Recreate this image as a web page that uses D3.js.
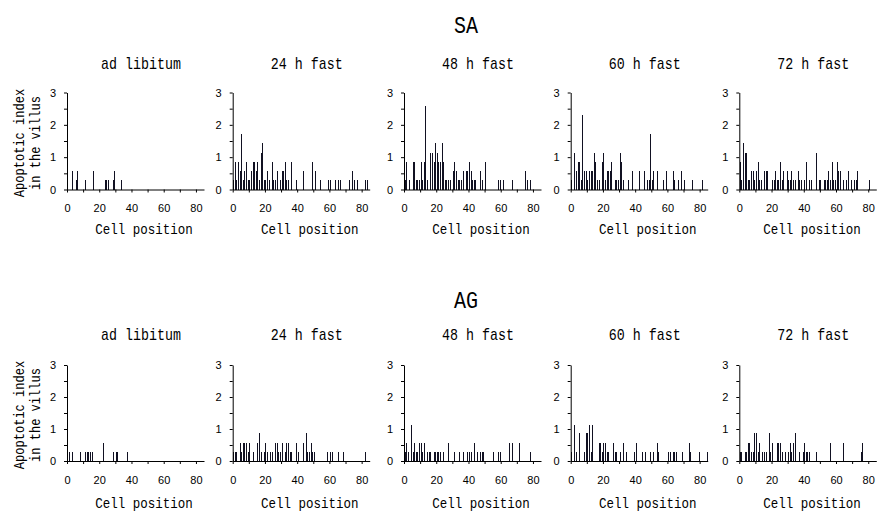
<!DOCTYPE html>
<html><head><meta charset="utf-8">
<script src="https://cdn.jsdelivr.net/npm/d3@7"></script>
<style>body{margin:0;background:#fff}</style></head>
<body>
<svg id="chart" width="878" height="512"></svg>
<script>
// ---------- data ----------
const groups = ["SA", "AG"];
const conditions = ["ad libitum", "24 h fast", "48 h fast", "60 h fast", "72 h fast"];
const xTickLabels = [0, 20, 40, 60, 80];
const yTickLabels = [0, 1, 2, 3];
const xLabel = "Cell position";
const yLabelLines = ["Apoptotic index", "in the villus"];

// SA
const saAdLibPos = [3, 5, 6, 11, 16, 23, 24, 25, 28, 29, 33];
const saAdLibVal = [0.57, 0.29, 0.57, 0.29, 0.57, 0.29, 0.29, 0.29, 0.29, 0.57, 0.29];

const sa24Pos = [0, 1, 2, 3, 4, 5, 6, 7, 8, 9, 10, 11, 12, 13, 14, 15, 16, 17, 18, 19, 20, 21, 22, 24, 25, 26, 27, 29, 30, 31, 32, 33, 34, 36, 39, 43, 49, 51, 54, 59, 60, 63, 65, 66, 72, 74, 75, 77, 82, 83];
const sa24Val = [0.29, 0.86, 0.29, 0.86, 0.57, 1.71, 0.29, 0.57, 0.86, 0.29, 0.29, 0.57, 0.86, 0.86, 0.57, 0.86, 0.29, 1.14, 1.43, 0.29, 0.29, 0.57, 0.29, 0.86, 0.29, 0.29, 0.57, 0.29, 0.57, 0.57, 0.86, 0.29, 0.29, 0.86, 0.29, 0.57, 0.86, 0.57, 0.29, 0.29, 0.29, 0.29, 0.29, 0.29, 0.29, 0.57, 0.29, 0.29, 0.29, 0.29];

const sa48Pos = [0, 1, 3, 5, 6, 7, 8, 9, 10, 11, 12, 13, 14, 16, 17, 18, 19, 20, 21, 22, 23, 24, 25, 26, 27, 28, 30, 31, 32, 33, 34, 35, 36, 38, 39, 40, 41, 42, 43, 44, 47, 48, 50, 58, 59, 61, 67, 75, 76, 78];
const sa48Val = [0.29, 0.86, 0.29, 0.86, 0.86, 0.29, 0.29, 0.29, 0.86, 0.29, 0.86, 2.57, 0.29, 1.14, 1.14, 0.86, 1.43, 1.14, 0.86, 0.86, 1.43, 0.86, 0.29, 0.29, 0.29, 0.29, 0.57, 0.86, 0.57, 0.29, 0.29, 0.29, 0.57, 0.57, 0.57, 0.86, 0.57, 0.29, 0.29, 0.29, 0.57, 0.29, 0.86, 0.29, 0.29, 0.29, 0.29, 0.57, 0.29, 0.29];

const sa60Pos = [0, 2, 3, 4, 5, 6, 7, 8, 9, 10, 11, 12, 13, 14, 15, 16, 17, 19, 20, 21, 22, 23, 24, 25, 27, 28, 29, 30, 31, 32, 35, 38, 42, 45, 47, 48, 49, 50, 51, 53, 57, 59, 63, 64, 66, 68, 70, 75, 81];
const sa60Val = [0.29, 1.14, 0.57, 0.86, 0.86, 0.29, 2.29, 0.57, 0.57, 0.29, 0.57, 0.57, 0.57, 1.14, 0.86, 0.29, 0.29, 0.86, 1.14, 0.29, 0.57, 0.57, 0.57, 0.86, 0.29, 0.29, 0.29, 1.14, 0.86, 0.29, 0.29, 0.57, 0.57, 0.57, 0.29, 0.29, 1.71, 0.29, 0.57, 0.57, 0.29, 0.57, 0.57, 0.29, 0.29, 0.57, 0.29, 0.29, 0.29];

const sa72Pos = [0, 1, 2, 3, 4, 5, 6, 7, 8, 9, 10, 11, 12, 13, 15, 16, 17, 20, 21, 22, 23, 24, 25, 26, 27, 29, 30, 31, 32, 33, 34, 36, 37, 38, 40, 41, 43, 44, 47, 49, 50, 52, 53, 54, 55, 56, 57, 58, 59, 60, 61, 62, 64, 66, 67, 69, 71, 72, 73, 80];
const sa72Val = [0.86, 0.29, 1.43, 1.14, 1.14, 0.29, 0.29, 0.57, 0.57, 0.29, 0.57, 0.86, 0.29, 0.29, 0.57, 0.57, 0.57, 0.29, 0.29, 0.57, 0.29, 0.29, 0.86, 0.29, 0.57, 0.57, 0.29, 0.29, 0.57, 0.29, 0.29, 0.57, 0.29, 0.29, 0.29, 0.86, 0.29, 0.29, 1.14, 0.29, 0.29, 0.29, 0.29, 0.29, 0.57, 0.29, 0.86, 0.29, 0.29, 0.86, 0.57, 0.57, 0.29, 0.29, 0.57, 0.29, 0.29, 0.29, 0.57, 0.29];

// AG
const agAdLibPos = [1, 3, 8, 11, 12, 13, 14, 15, 22, 28, 30, 31, 37];
const agAdLibVal = [0.29, 0.29, 0.29, 0.29, 0.29, 0.29, 0.29, 0.29, 0.57, 0.29, 0.29, 0.29, 0.29];

const ag24Pos = [0, 1, 2, 4, 5, 6, 7, 8, 9, 10, 12, 15, 16, 17, 19, 20, 21, 23, 24, 26, 27, 28, 29, 30, 32, 33, 34, 35, 36, 39, 40, 43, 45, 46, 47, 48, 49, 50, 58, 60, 61, 65, 68, 82];
const ag24Val = [0.29, 0.29, 0.29, 0.57, 0.29, 0.57, 0.57, 0.57, 0.29, 0.57, 0.29, 0.57, 0.86, 0.29, 0.29, 0.57, 0.29, 0.29, 0.29, 0.57, 0.57, 0.29, 0.29, 0.57, 0.29, 0.57, 0.57, 0.29, 0.29, 0.57, 0.29, 0.57, 0.86, 0.29, 0.29, 0.57, 0.29, 0.29, 0.29, 0.29, 0.29, 0.29, 0.29, 0.29];

const ag48Pos = [0, 1, 2, 4, 5, 6, 7, 8, 9, 10, 11, 12, 14, 15, 16, 18, 19, 20, 21, 22, 24, 27, 31, 34, 36, 39, 40, 41, 43, 45, 47, 48, 49, 55, 58, 59, 65, 67, 71, 78];
const ag48Val = [0.29, 0.57, 0.29, 1.14, 0.29, 0.57, 0.29, 0.29, 0.57, 0.57, 0.29, 0.57, 0.29, 0.29, 0.29, 0.29, 0.29, 0.29, 0.29, 0.29, 0.29, 0.57, 0.29, 0.29, 0.29, 0.29, 0.29, 0.29, 0.57, 0.29, 0.29, 0.29, 0.29, 0.29, 0.29, 0.29, 0.57, 0.57, 0.57, 0.29];

const ag60Pos = [0, 2, 3, 5, 8, 9, 10, 11, 12, 13, 17, 18, 19, 20, 21, 22, 23, 26, 27, 28, 30, 32, 34, 39, 40, 44, 46, 49, 51, 53, 54, 60, 61, 63, 64, 65, 69, 73, 74, 79, 84];
const ag60Val = [0.29, 1.14, 0.29, 0.86, 0.29, 0.86, 0.86, 1.14, 0.29, 1.14, 0.57, 0.57, 0.29, 0.57, 0.57, 0.29, 0.29, 0.57, 0.29, 0.29, 0.29, 0.57, 0.29, 0.29, 0.57, 0.29, 0.29, 0.29, 0.29, 0.57, 0.29, 0.29, 0.29, 0.29, 0.29, 0.29, 0.29, 0.57, 0.29, 0.29, 0.29];

const ag72Pos = [0, 1, 3, 4, 5, 6, 7, 8, 9, 10, 11, 12, 14, 15, 16, 18, 19, 20, 23, 24, 25, 26, 28, 30, 31, 32, 33, 34, 37, 39, 40, 41, 42, 43, 47, 56, 64, 75, 76];
const ag72Val = [0.29, 0.29, 0.29, 0.29, 0.57, 0.57, 0.29, 0.29, 0.86, 0.86, 0.29, 0.57, 0.29, 0.29, 0.29, 0.86, 0.29, 0.57, 0.57, 0.57, 0.57, 0.29, 0.29, 0.29, 0.57, 0.29, 0.57, 0.86, 0.29, 0.29, 0.57, 0.29, 0.29, 0.29, 0.29, 0.57, 0.57, 0.29, 0.57];

const seriesPos = [
  [saAdLibPos, sa24Pos, sa48Pos, sa60Pos, sa72Pos],
  [agAdLibPos, ag24Pos, ag48Pos, ag60Pos, ag72Pos]
];
const seriesVal = [
  [saAdLibVal, sa24Val, sa48Val, sa60Val, sa72Val],
  [agAdLibVal, ag24Val, ag48Val, ag60Val, ag72Val]
];

// ---------- layout ----------
const panelLeft = [67, 232.7, 404, 570.7, 739.3];
const panelWidth = 137;
const rowLayout = [
  {top: 92.5, bottom: 189.5, head: 25, title: 63, xlab: 229},
  {top: 365, bottom: 461, head: 300, title: 334, xlab: 503}
];
const svg = d3.select("#chart");
const GOTHIC = "'Liberation Mono', 'DejaVu Sans Mono', monospace";
const SANS = "'Liberation Sans', Arial, sans-serif";
const NARROW = 0.5 / 0.6; // half-width gothic look from a 0.6em mono font

function gothicText(g, x, y, txt, size, rotate) {
  const tr = rotate
    ? `translate(${x},${y}) rotate(-90) scale(${NARROW},1)`
    : `translate(${x},${y}) scale(${NARROW},1)`;
  return g.append("text")
    .attr("transform", tr)
    .attr("dy", "0.35em")
    .attr("text-anchor", "middle")
    .attr("font-family", GOTHIC)
    .attr("font-size", size)
    .attr("fill", "#000")
    .text(txt);
}

groups.forEach((grp, gi) => {
  const L = rowLayout[gi];
  gothicText(svg, 466, L.head, grp, 24);
  const mid = (L.top + L.bottom) / 2 + 2;
  gothicText(svg, 19, mid, yLabelLines[0], 14.5, true);
  gothicText(svg, 35, mid, yLabelLines[1], 14.5, true);

  conditions.forEach((cond, ci) => {
    const left = panelLeft[ci];
    const x = d3.scaleLinear().domain([0, 85]).range([left, left + panelWidth]);
    const y = d3.scaleLinear().domain([0, 3]).range([L.bottom, L.top]);
    const g = svg.append("g");

    gothicText(g, left + 74, L.title, cond, 16);
    gothicText(g, Math.min(left + 77, 812), L.xlab, xLabel, 15);

    const pos = seriesPos[gi][ci];
    const val = seriesVal[gi][ci];
    const data = pos.map((p, i) => ({p, v: val[i]}));
    g.append("g").attr("shape-rendering", "crispEdges")
      .selectAll("rect").data(data).join("rect")
      .attr("x", d => Math.round(x(d.p) + 0.5))
      .attr("y", d => Math.round(y(d.v)))
      .attr("width", 1)
      .attr("height", d => Math.round(y(0)) - Math.round(y(d.v)))
      .attr("fill", "#111122");

    const yAxis = d3.axisLeft(y)
      .tickValues(d3.range(0, 3.01, 0.5))
      .tickSize(3).tickSizeOuter(0).tickPadding(8)
      .tickFormat(d => yTickLabels.includes(d) ? d : "");
    const ya = g.append("g").attr("transform", `translate(${left},0)`).call(yAxis);

    const xAxis = d3.axisBottom(x)
      .tickValues(d3.range(0, 81, 10))
      .tickSize(3).tickSizeOuter(0).tickPadding(12)
      .tickFormat(d => xTickLabels.includes(d) ? d : "");
    const xa = g.append("g").attr("transform", `translate(0,${L.bottom})`).call(xAxis);

    [ya, xa].forEach(a => {
      a.selectAll("path,line").attr("stroke", "#000").attr("stroke-width", 1);
      a.selectAll("text").attr("font-family", SANS).attr("font-size", 11).attr("fill", "#000");
    });
  });
});
</script>
</body></html>
